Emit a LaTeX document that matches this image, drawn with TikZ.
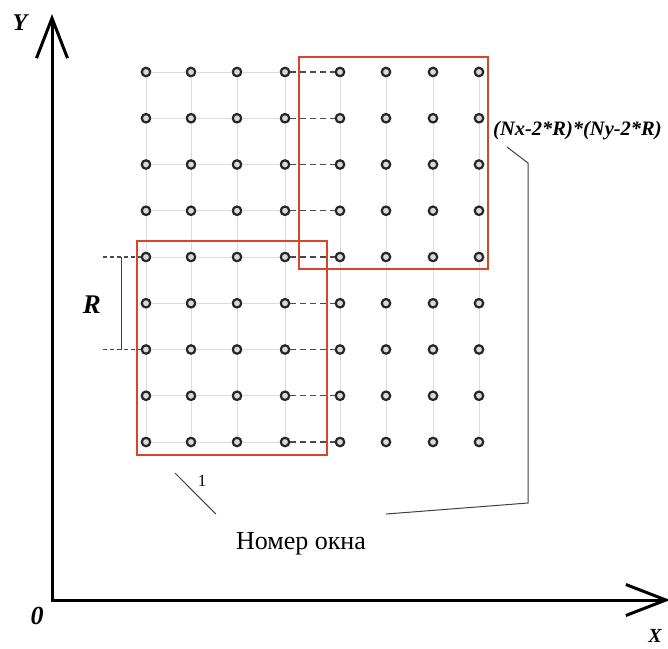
\documentclass[tikz,border=0pt]{standalone}
\definecolor{mGridGray}{HTML}{DCDCDC}
\definecolor{mDashGray}{HTML}{4A4A4A}
\definecolor{mBoxRed}{HTML}{D8442C}
\definecolor{mLeadGray}{HTML}{404040}
\usepackage{fontspec}
\setmainfont{Liberation Serif}
\usepackage{tikz}
\usetikzlibrary{arrows.meta}

\begin{document}
\begin{tikzpicture}[x=1pt, y=-1pt,
  dot/.style={draw=black!85, circle, fill=black!15, line width=2.2pt, inner sep=0pt, minimum size=8.5pt},
  gridline/.style={draw=mGridGray, line width=0.9pt},
  gapline/.style={draw=mDashGray, line width=1.3pt, dash pattern=on 6pt off 4pt},
  rtick/.style={draw=mDashGray, line width=1.2pt, dash pattern=on 4pt off 3pt},
  winbox/.style={draw=mBoxRed, line width=2pt},
  leader/.style={draw=mLeadGray, line width=1pt},
  lbl/.style={font=\fontsize{#1}{#1}\selectfont\bfseries\itshape, inner sep=0pt}]
\useasboundingbox (0,0) rectangle (668,648);
% axes
\coordinate (O) at (52,600); \coordinate (Ytip) at (52,14); \coordinate (Xtip) at (670,600);
\draw[line width=3pt, {Straight Barb[length=40pt,width=31pt]}-{Straight Barb[length=40pt,width=31pt]}] (Ytip) -- (O) -- (Xtip);
\node[lbl=24] (ylab) at (20,23) {Y};
\node[lbl=26] (zero) at (37,616) {0};
\node[lbl=20] (xlab) at (655,636) {X};
% grid of points
\foreach \c/\x in {1/146,2/191,3/237,4/285,5/340,6/386,7/433,8/479}
  \foreach \r in {1,...,9}
    \node[dot] (d-\r-\c) at (\x,{72+(\r-1)*46.25}) {};
\foreach \c in {1,...,8}
  \foreach \r [count=\s from 2] in {1,...,8}
    \draw[gridline] (d-\r-\c) -- (d-\s-\c);
\foreach \r in {1,...,9} {
  \foreach \c [count=\s from 2] in {1,2,3,5,6,7}
    \draw[gridline] (d-\r-\c) -- (d-\r-\s);
  \draw[gapline] (d-\r-4) -- (d-\r-5);
}
% windows
\draw[winbox] (299,57) rectangle (488,269);
\draw[winbox] (137,241) rectangle (327,455);
% R dimension
\coordinate (rt) at (103,257); \coordinate (rb) at (103,349.5);
\draw[rtick] (rt) -- (d-5-1); \draw[rtick] (rb) -- (d-7-1);
\coordinate (rv-t) at (121,257); \coordinate (rv-b) at (121,349.5);
\draw[leader] (rv-t) -- (rv-b);
\node[lbl=27] (rlab) at (92,305) {R};
% labels
\node[lbl=20.5, anchor=west] (area) at (493,131) {(Nx-2*R)*(Ny-2*R)};
\node[font=\fontsize{17}{17}\selectfont, inner sep=0pt] (one) at (202,481) {1};
\node[font=\fontsize{26}{26}\selectfont, anchor=north, inner xsep=20pt, inner ysep=18pt] (num) at (301,514) {Номер окна};
\coordinate (one-a) at (175,473);
\draw[leader] (one-a) -- (num.north west);
\coordinate (area-a) at (507,147); \coordinate (area-b) at (528,163); \coordinate (area-c) at (528,503);
\draw[leader] (area-a) -- (area-b) -- (area-c) -- (num.north east);
\end{tikzpicture}
\end{document}
